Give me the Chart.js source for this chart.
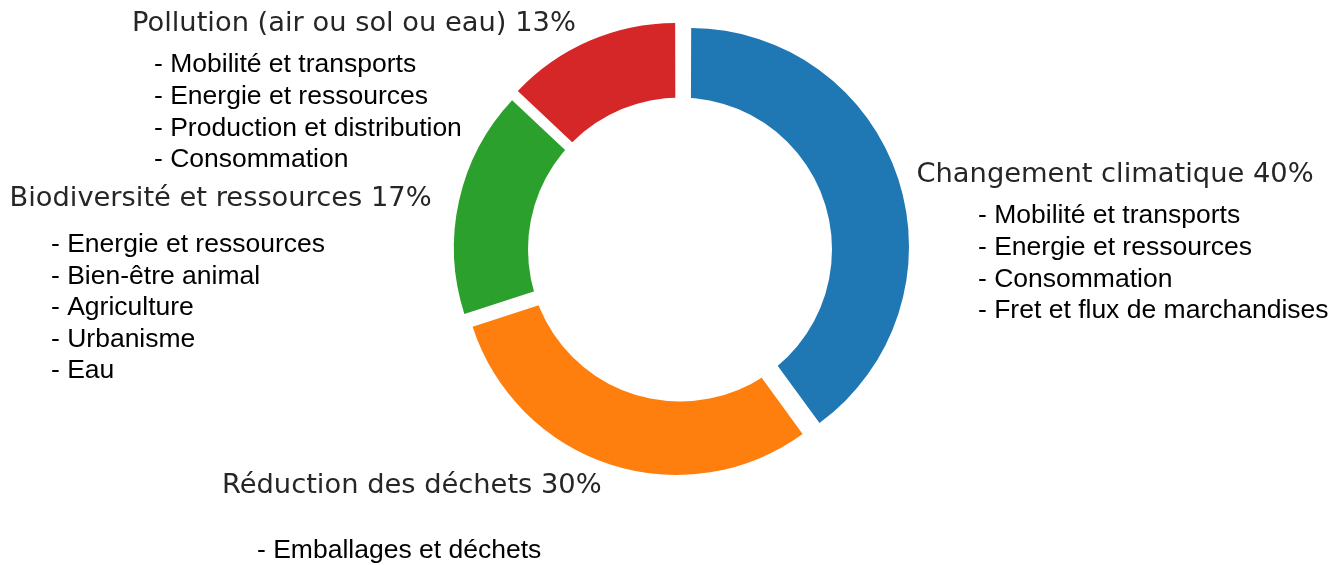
<!DOCTYPE html>
<html>
<head>
<meta charset="utf-8">
<script src="https://cdn.jsdelivr.net/npm/chart.js@4/dist/chart.umd.min.js"></script>
<style>
  html, body { margin: 0; padding: 0; background: #fff; }
  #wrap { width: 1334px; height: 565px; }
</style>
</head>
<body>
<div id="wrap"><canvas id="c" width="1334" height="565"></canvas></div>
<script>
const categories = ['Changement climatique', 'Réduction des déchets', 'Biodiversité et ressources', 'Pollution (air ou sol ou eau)'];
const values = [40, 30, 17, 13];
const colors = ['#1f77b4', '#ff7f0e', '#2ca02c', '#d62728'];
const subItems = [
  ['Mobilité et transports', 'Energie et ressources', 'Consommation', 'Fret et flux de marchandises'],
  ['Emballages et déchets'],
  ['Energie et ressources', 'Bien-être animal', 'Agriculture', 'Urbanisme', 'Eau'],
  ['Mobilité et transports', 'Energie et ressources', 'Production et distribution', 'Consommation']
];

// layout of the text blocks (title x/baseline, list x, first list baseline, line step)
const textLayout = [
  { tx: 916.5, ty: 182, lx: 978, ly: 223, step: 31.8 },
  { tx: 222, ty: 493, lx: 257, ly: 558, step: 31.8 },
  { tx: 9.5, ty: 206, lx: 51, ly: 252, step: 31.5 },
  { tx: 132, ty: 31, lx: 154, ly: 72, step: 31.8 }
];

const holePlugin = {
  id: 'hole',
  afterDatasetsDraw(chart) {
    const arc = chart.getDatasetMeta(0).data[0];
    const ctx = chart.ctx;
    ctx.save();
    ctx.beginPath();
    ctx.arc(arc.x, arc.y - 0.5, 152, 0, Math.PI * 2);
    ctx.fillStyle = '#ffffff';
    ctx.fill();
    ctx.restore();
  }
};

const labelPlugin = {
  id: 'labels',
  afterDraw(chart) {
    const ctx = chart.ctx;
    ctx.save();
    ctx.textBaseline = 'alphabetic';
    ctx.textAlign = 'left';
    categories.forEach((cat, i) => {
      const L = textLayout[i];
      ctx.font = '27.3px "DejaVu Sans"';
      ctx.fillStyle = '#262626';
      ctx.fillText(cat + ' ' + values[i] + '%', L.tx, L.ty);
      ctx.font = '26.5px "Liberation Sans"';
      ctx.fillStyle = '#000000';
      subItems[i].forEach((s, j) => {
        ctx.fillText('- ' + s, L.lx, L.ly + j * L.step);
      });
    });
    ctx.restore();
  }
};

new Chart(document.getElementById('c'), {
  type: 'doughnut',
  data: {
    labels: categories,
    datasets: [{
      data: values,
      backgroundColor: colors,
      borderWidth: 0,
      offset: 44,
      hoverOffset: 0
    }]
  },
  options: {
    responsive: false,
    animation: false,
    events: [],
    radius: 214,
    cutout: '55%',
    layout: { padding: { left: 26, right: 0, top: 0, bottom: 65 } },
    plugins: {
      legend: { display: false },
      tooltip: { enabled: false },
      title: { display: false }
    }
  },
  plugins: [holePlugin, labelPlugin]
});
</script>
</body>
</html>
